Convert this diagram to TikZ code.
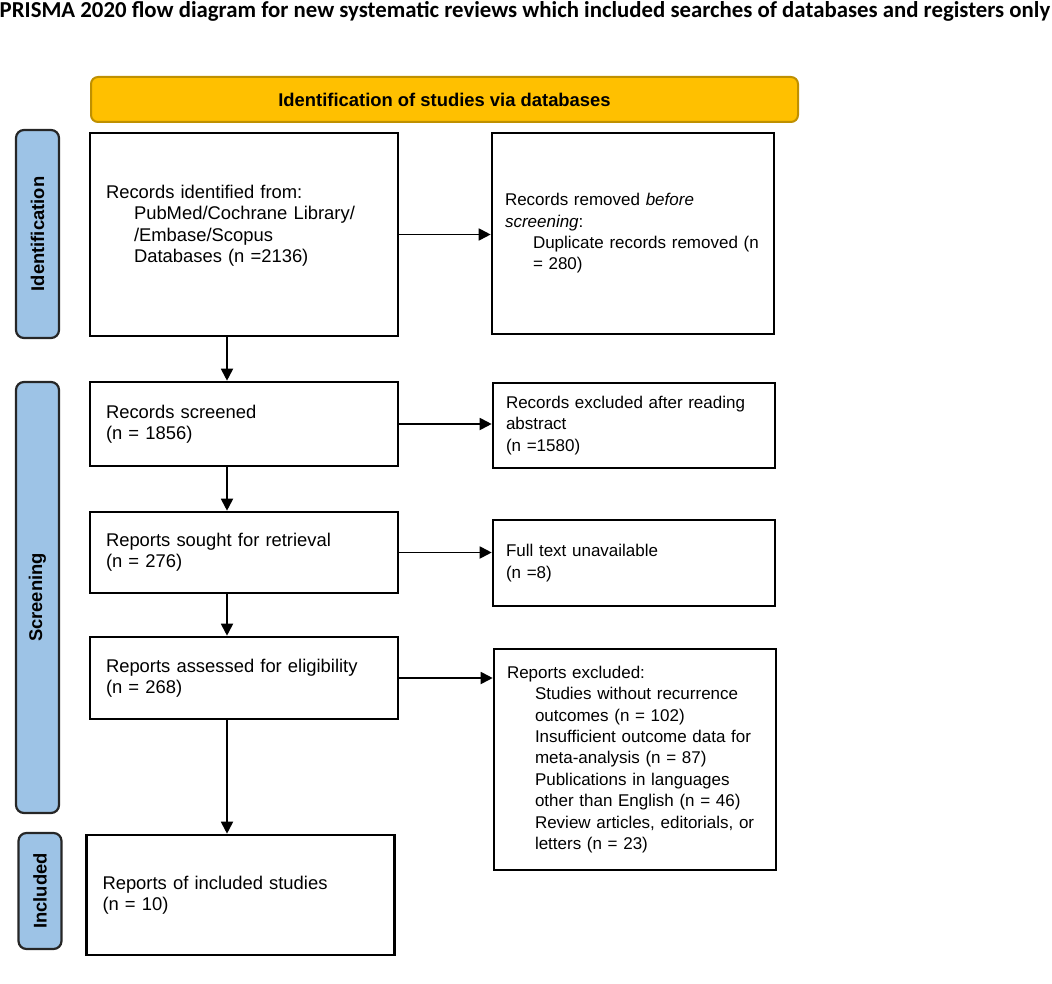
\documentclass[tikz,border=0pt]{standalone}
\usepackage{fontspec}
\setmainfont{Liberation Sans}
\newfontfamily\titlefont{Carlito}
\usetikzlibrary{arrows.meta}
\definecolor{prismagold}{HTML}{FFC000}
\definecolor{prismagoldline}{HTML}{BF9000}
\definecolor{prismablue}{HTML}{9DC3E6}
\newcommand{\indentline}{\hspace*{28pt}}
\begin{document}
\begin{tikzpicture}[x=1pt,y=-1pt,
	leftbox/.style={draw, line width=2.6pt, align=left, inner xsep=16pt, text width=276pt, minimum height=#1, font=\fontsize{18.4}{21.4}\selectfont},
	rightbox/.style={draw, line width=2.6pt, align=left, inner xsep=13pt, text width=256pt, minimum height=#1, font=\fontsize{17}{21.4}\selectfont},
	sidebar/.style={draw=black!85, fill=prismablue, line width=2.2pt, rounded corners=8pt, rotate=90, minimum width=#1, minimum height=43pt, inner sep=0pt, font=\bfseries\fontsize{18.4}{21.4}\selectfont},
	arr/.style={line width=1.8pt, -{Triangle[length=12pt,width=12pt]}}]
	\useasboundingbox (0,0) rectangle (1052,984);
	% title and header
	\node (title) at (525,17.5) [anchor=base, font=\titlefont\bfseries\fontsize{22.8}{25}\selectfont] {PRISMA 2020 flow diagram for new systematic reviews which included searches of databases and registers only};
	\node (head) at (444.5,99.5) [draw=prismagoldline, fill=prismagold, line width=2pt, rounded corners=7pt, minimum width=707pt, minimum height=45pt, font=\bfseries\fontsize{18.4}{21.4}\selectfont] {Identification of studies via databases};
	% phases
	\node (sideident) at (37.5,234) [sidebar=208pt] {Identification};
	\node (sidescreen) at (37.5,597.5) [sidebar=431pt] {Screening};
	\node (sideincl) at (40,891) [sidebar=116pt] {Included};
	% main column
	\node (ident) at (244,234.5) [leftbox=203pt] {Records identified from:\\ \indentline PubMed/Cochrane Library/\\ \indentline /Embase/Scopus\\ \indentline Databases (n =2136)\\ \mbox{}};
	\node (screened) at (244,424) [leftbox=84pt] {Records screened\\ (n = 1856)};
	\node (sought) at (244,552.5) [leftbox=81pt] {Reports sought for retrieval\\ (n = 276)};
	\node (assessed) at (244,678) [leftbox=82pt] {Reports assessed for eligibility\\ (n = 268)};
	\node (included) at (240.5,895) [leftbox=120pt] {Reports of included studies\\ (n = 10)};
	% side column
	\node (removed) at (633,233.5) [rightbox=201pt] {Records removed \textit{before}\\ \textit{screening}:\\ \indentline Duplicate records removed (n\\ \indentline = 280)};
	\node (excluded) at (634,425.5) [rightbox=85pt] {Records excluded after reading\\ abstract\\ (n =1580)};
	\node (fulltext) at (634,563) [rightbox=86pt] {Full text unavailable\\ (n =8)};
	\node (repexcl) at (635,759.5) [rightbox=221pt] {Reports excluded:\\ \indentline Studies without recurrence\\ \indentline outcomes (n = 102)\\ \indentline Insufficient outcome data for\\ \indentline meta-analysis (n = 87)\\ \indentline Publications in languages\\ \indentline other than English (n = 46)\\ \indentline Review articles, editorials, or\\ \indentline letters (n = 23)};
	% connectors
	\coordinate (spine) at (227,0);
	\draw[arr] (ident.south -| spine) -- (screened.north -| spine);
	\draw[arr] (screened.south -| spine) -- (sought.north -| spine);
	\draw[arr] (sought.south -| spine) -- (assessed.north -| spine);
	\draw[arr] (assessed.south -| spine) -- (included.north -| spine);
	\draw[arr] (ident.east) -- (ident.east -| removed.west);
	\draw[arr] (screened.east) -- (screened.east -| excluded.west);
	\draw[arr] (sought.east) -- (sought.east -| fulltext.west);
	\draw[arr] (assessed.east) -- (assessed.east -| repexcl.west);
\end{tikzpicture}
\end{document}
